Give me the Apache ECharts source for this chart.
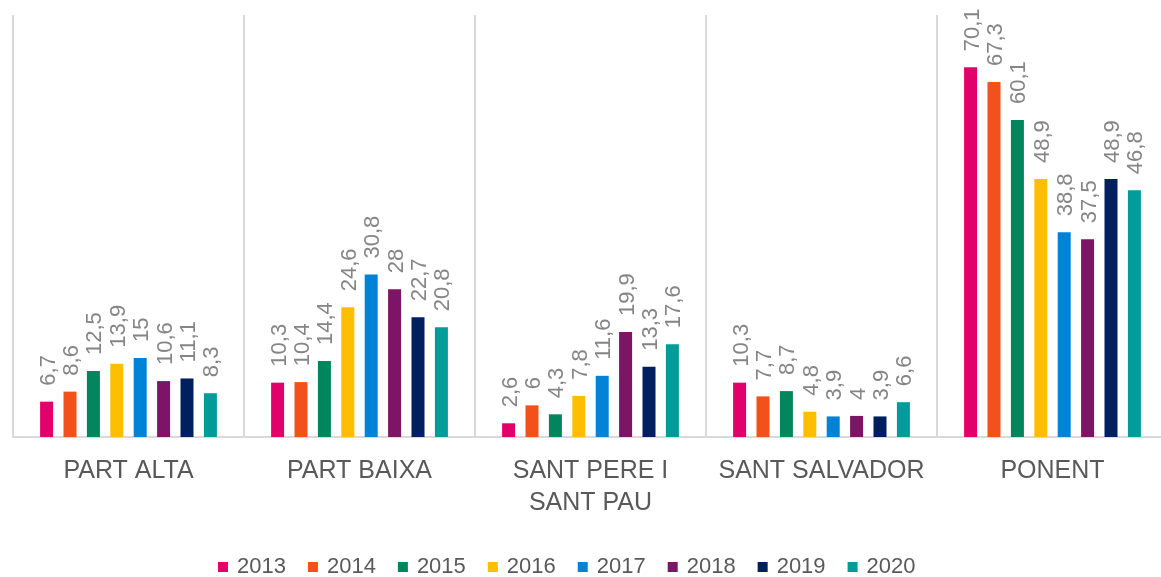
<!DOCTYPE html>
<html>
<head>
<meta charset="utf-8">
<script src="https://cdn.jsdelivr.net/npm/echarts@6/dist/echarts.min.js"></script>
<style>
html,body{margin:0;padding:0;background:#fff;overflow:hidden;width:1161px;height:577px;}
#chart{width:1170px;height:577px;}
</style>
</head>
<body>
<div id="chart"></div>
<script>
var categories = ['PART ALTA', 'PART BAIXA', 'SANT PERE I\nSANT PAU', 'SANT SALVADOR', 'PONENT'];
var years = ['2013', '2014', '2015', '2016', '2017', '2018', '2019', '2020'];
var v2013 = [6.7, 10.3, 2.6, 10.3, 70.1];
var v2014 = [8.6, 10.4, 6, 7.7, 67.3];
var v2015 = [12.5, 14.4, 4.3, 8.7, 60.1];
var v2016 = [13.9, 24.6, 7.8, 4.8, 48.9];
var v2017 = [15, 30.8, 11.6, 3.9, 38.8];
var v2018 = [10.6, 28, 19.9, 4, 37.5];
var v2019 = [11.1, 22.7, 13.3, 3.9, 48.9];
var v2020 = [8.3, 20.8, 17.6, 6.6, 46.8];
var seriesValues = [v2013, v2014, v2015, v2016, v2017, v2018, v2019, v2020];
var colors = ['#E2006A', '#F2511C', '#00855C', '#FFBE00', '#0082D6', '#7D1465', '#001F5F', '#009C9A'];

var series = years.map(function (y, i) {
  return {
    name: y,
    type: 'bar',
    data: seriesValues[i],
    barWidth: 13,
    barGap: '80%',
    itemStyle: { color: colors[i] },
    label: {
      show: true,
      position: 'top',
      rotate: 90,
      align: 'left',
      verticalAlign: 'middle',
      distance: 16,
      offset: [0, 2],
      color: '#858585',
      fontSize: 22,
      fontFamily: '"Liberation Sans Narrow", "Liberation Sans", Arial, sans-serif',
      formatter: function (p) { return String(p.value).replace('.', ','); }
    }
  };
});

var chart = echarts.init(document.getElementById('chart'), null, { renderer: 'canvas' });
chart.setOption({
  animation: false,
  color: colors,
  grid: { left: 13, top: 15, right: 2, bottom: 140, containLabel: false },
  legend: {
    data: years,
    left: 218,
    top: 556,
    padding: 0,
    itemWidth: 10,
    itemHeight: 10,
    itemGap: 22,
    icon: 'rect',
    textStyle: {
      color: '#595959',
      fontSize: 22,
      fontFamily: '"Liberation Sans", Arial, sans-serif',
      padding: [0, 0, 0, 4]
    }
  },
  xAxis: {
    type: 'category',
    data: categories,
    boundaryGap: true,
    axisLine: { show: true, lineStyle: { color: '#d9d9d9', width: 2 } },
    axisTick: { show: false },
    splitLine: { show: true, interval: 0, lineStyle: { color: '#d9d9d9', width: 2 } },
    axisLabel: {
      interval: 0,
      color: '#595959',
      fontSize: 25,
      lineHeight: 32,
      margin: 18,
      fontFamily: '"Liberation Sans", Arial, sans-serif'
    }
  },
  yAxis: {
    type: 'value',
    min: 0,
    max: 80,
    show: false,
    splitLine: { show: false }
  },
  series: series
});
</script>
</body>
</html>
